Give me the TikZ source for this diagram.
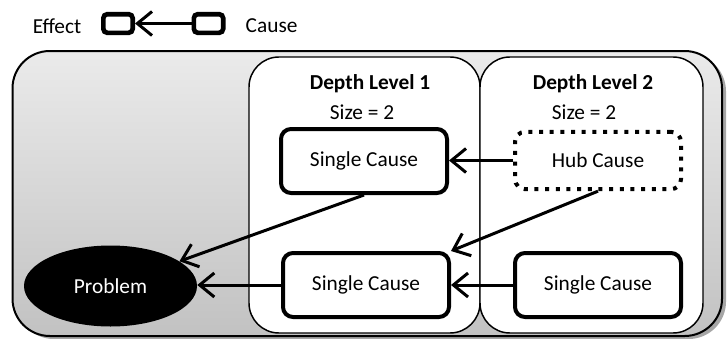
\documentclass[tikz,border=0pt]{standalone}
\usepackage{fontspec}
\setmainfont{Carlito}
\usepackage{tikz}
\usetikzlibrary{shapes.geometric, arrows.meta}
\tikzstyle{box} = [
    rectangle, text centered,
    rounded corners=7.5pt,
    inner sep=0pt,
    fill=white,
    draw=black,
]
\tikzstyle{cause} = [
    box,
    minimum width=124.5pt,
    minimum height=48pt,
    line width=3pt,
]
\tikzstyle{hub} = [
    cause,
    minimum height=43pt,
    dash pattern=on 3pt off 5pt,
]
\tikzstyle{legendbox} = [
    box,
    rounded corners=3pt,
    minimum width=22pt,
    minimum height=14pt,
    line width=3.5pt,
]
\tikzstyle{problem} = [
    ellipse,
    inner sep=0pt,
    minimum width=129.75pt,
    minimum height=60.75pt,
    fill=black,
    text=white,
]
\tikzstyle{panel} = [
    draw=black,
    fill=white,
    line width=1.1pt,
    rounded corners=22.5pt,
]
\tikzstyle{arrow} = [line width=2.25pt, -{Straight Barb[length=11pt, width=18pt]}]

\begin{document}
\begin{tikzpicture}[x=0.75pt, y=-0.75pt, font=\fontsize{16}{19}\selectfont]
    \useasboundingbox (0,0) rectangle (728,339);

    % frame
    \fill [black!35, rounded corners=28pt] (16.5,54) rectangle (726,339);
    \draw [line width=1.5pt, rounded corners=28pt, top color=black!8, bottom color=black!24]
        (12.5,51) rectangle (722,336);
    \draw [panel] (249,57) rectangle (480,333);
    \draw [panel] (480,57) rectangle (703,333);

    % legend
    \node (effect) at (57, 26) {Effect};
    \node (leg1) at (118, 23.5) [legendbox] {};
    \node (leg2) at (208.5, 23.5) [legendbox] {};
    \node (cause) at (241, 26) [anchor=west] {Cause};

    % levels
    \node (title1) at (370, 84) {\textbf{Depth Level 1}};
    \node (size1) at (362, 112) {Size = 2};
    \node (title2) at (593, 84) {\textbf{Depth Level 2}};
    \node (size2) at (584, 112) {Size = 2};

    % boxes
    \node (prob) at (110.5, 286) [problem] {Problem};
    \node (single1a) at (364, 161) [cause] {Single Cause};
    \node (hub2) at (598, 160.5) [hub] {Hub Cause};
    \node (single1b) at (366, 285) [cause] {Single Cause};
    \node (single2b) at (598, 285) [cause] {Single Cause};

    % arrows
    \draw [arrow] (leg2.west) to (leg1.east);
    \draw [arrow] (hub2.west) to (hub2.west -| single1a.east);
    \draw [arrow] (hub2.south) to (single1b.north east);
    \draw [arrow] (single1a.south) to (prob);
    \draw [arrow] (single1b.west) to (single1b.west -| prob.east);
    \draw [arrow] (single2b.west) to (single1b.east);

\end{tikzpicture}
\end{document}
